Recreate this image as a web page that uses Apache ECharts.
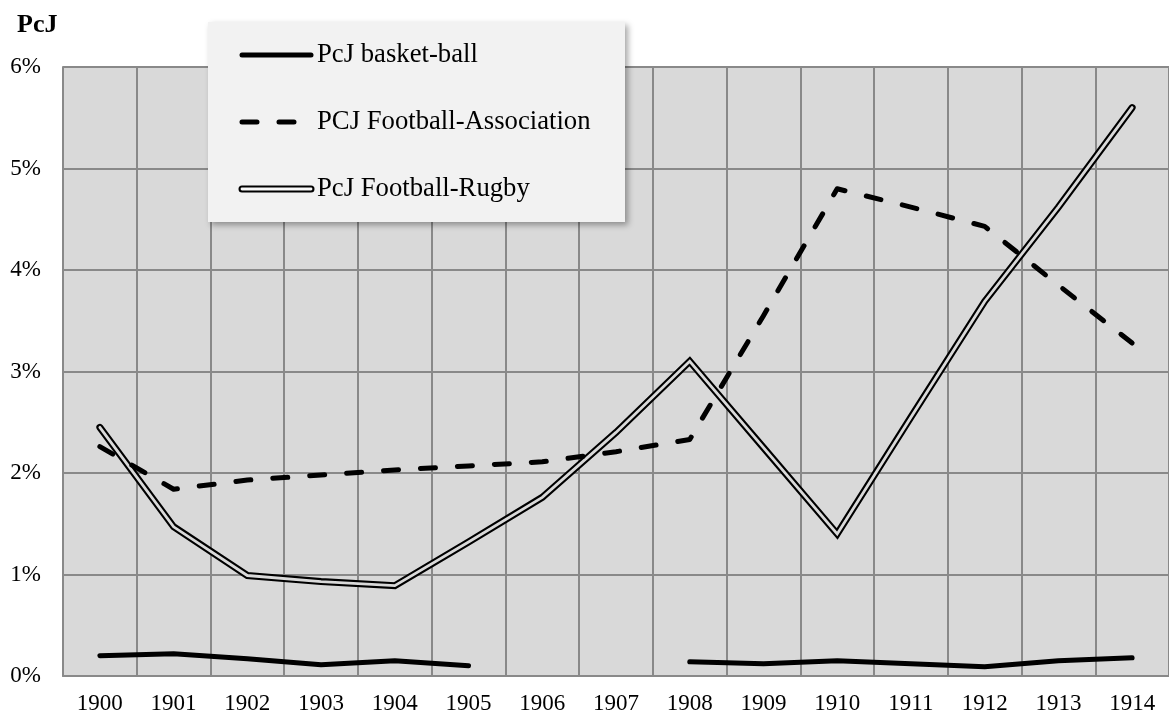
<!DOCTYPE html>
<html>
<head>
<meta charset="utf-8">
<script src="https://cdn.jsdelivr.net/npm/echarts@6/dist/echarts.min.js"></script>
<style>
html,body{margin:0;padding:0;background:#fff;}
#chart{width:1169px;height:715px;}
</style>
</head>
<body>
<div id="chart"></div>
<script>
const years = ['1900','1901','1902','1903','1904','1905','1906','1907','1908','1909','1910','1911','1912','1913','1914'];
const basketBall = [0.20,0.22,0.17,0.11,0.15,0.10,null,null,0.14,0.12,0.15,0.12,0.09,0.15,0.18];
const footballAssociation = [2.26,1.84,1.93,1.98,2.03,2.07,2.11,2.21,2.33,3.55,4.80,4.62,4.43,3.85,3.28];
const footballRugby = [2.45,1.47,0.99,0.93,0.89,1.32,1.76,2.40,3.10,2.25,1.40,2.55,3.69,4.62,5.60];
const yTicks = ['0%','1%','2%','3%','4%','5%','6%'];
const seriesNames = ['PcJ basket-ball','PCJ Football-Association','PcJ Football-Rugby'];
const axisTitle = 'PcJ';

const FONT = '"Liberation Serif", "Times New Roman", serif';
const GRIDC = '#898989';
const BG = '#d9d9d9';

const chart = echarts.init(document.getElementById('chart'), null, {renderer:'canvas'});

const lgX = 208, lgY = 22, lgW = 417, lgH = 200;
const rows = [55, 122, 189];
const sx1 = 242, sx2 = 311, tx = 317;

chart.setOption({
  animation:false,
  backgroundColor:'#ffffff',
  grid:{left:63, top:67, width:1117, height:610, show:true, backgroundColor:BG, borderWidth:0, containLabel:false},
  xAxis:{
    type:'category', data:years, boundaryGap:true,
    axisLine:{show:true, lineStyle:{color:GRIDC, width:2}},
    axisTick:{show:false},
    axisLabel:{interval:0, fontFamily:FONT, fontSize:23, color:'#000', margin:16},
    splitLine:{show:true, interval:0, lineStyle:{color:GRIDC, width:2}}
  },
  yAxis:{
    type:'value', min:0, max:6, interval:1,
    axisLine:{show:true, lineStyle:{color:GRIDC, width:2}},
    axisTick:{show:false},
    axisLabel:{fontFamily:FONT, fontSize:23, color:'#000', margin:22,
      formatter:function(v){return yTicks[Math.round(v)];}},
    splitLine:{show:true, lineStyle:{color:GRIDC, width:2}}
  },
  series:[
    {name:seriesNames[0], type:'line', data:basketBall, showSymbol:false, symbol:'none', connectNulls:false,
     lineStyle:{color:'#000', width:5, cap:'round', join:'round'}, z:3},
    {name:seriesNames[2], type:'line', data:footballRugby, showSymbol:false, symbol:'none',
     lineStyle:{color:'#000', width:7, cap:'round', join:'miter'}, z:4},
    {name:seriesNames[2]+' ', type:'line', data:footballRugby, showSymbol:false, symbol:'none',
     lineStyle:{color:BG, width:2.8, cap:'round', join:'miter'}, z:5},
    {name:seriesNames[1], type:'line', data:footballAssociation, showSymbol:false, symbol:'none',
     lineStyle:{color:'#000', width:5, type:[15,22], cap:'round', join:'round'}, z:6}
  ],
  graphic:[
    {type:'text', left:17, top:12, style:{text:axisTitle, font:'bold 26px '+FONT, fill:'#000'}, z:10},
    {type:'rect', shape:{x:lgX, y:lgY, width:lgW, height:lgH}, z:20,
     style:{fill:'#f2f2f2', shadowBlur:6, shadowOffsetX:3, shadowOffsetY:3, shadowColor:'rgba(0,0,0,0.35)'}},
    {type:'line', shape:{x1:sx1, y1:rows[0], x2:sx2, y2:rows[0]}, z:21, style:{stroke:'#000', lineWidth:5, lineCap:'round'}},
    {type:'line', shape:{x1:sx1, y1:rows[1], x2:sx2, y2:rows[1]}, z:21, style:{stroke:'#000', lineWidth:5, lineCap:'round', lineDash:[15,22]}},
    {type:'line', shape:{x1:sx1, y1:rows[2], x2:sx2, y2:rows[2]}, z:21, style:{stroke:'#000', lineWidth:7, lineCap:'round'}},
    {type:'line', shape:{x1:sx1, y1:rows[2], x2:sx2, y2:rows[2]}, z:22, style:{stroke:'#f8f8f8', lineWidth:2.8, lineCap:'round'}},
    {type:'text', x:tx, y:rows[0], z:23, style:{text:seriesNames[0], font:'26.7px '+FONT, fill:'#000', textVerticalAlign:'middle'}},
    {type:'text', x:tx, y:rows[1], z:23, style:{text:seriesNames[1], font:'26.7px '+FONT, fill:'#000', textVerticalAlign:'middle'}},
    {type:'text', x:tx, y:rows[2], z:23, style:{text:seriesNames[2], font:'26.7px '+FONT, fill:'#000', textVerticalAlign:'middle'}}
  ]
});
</script>
</body>
</html>
